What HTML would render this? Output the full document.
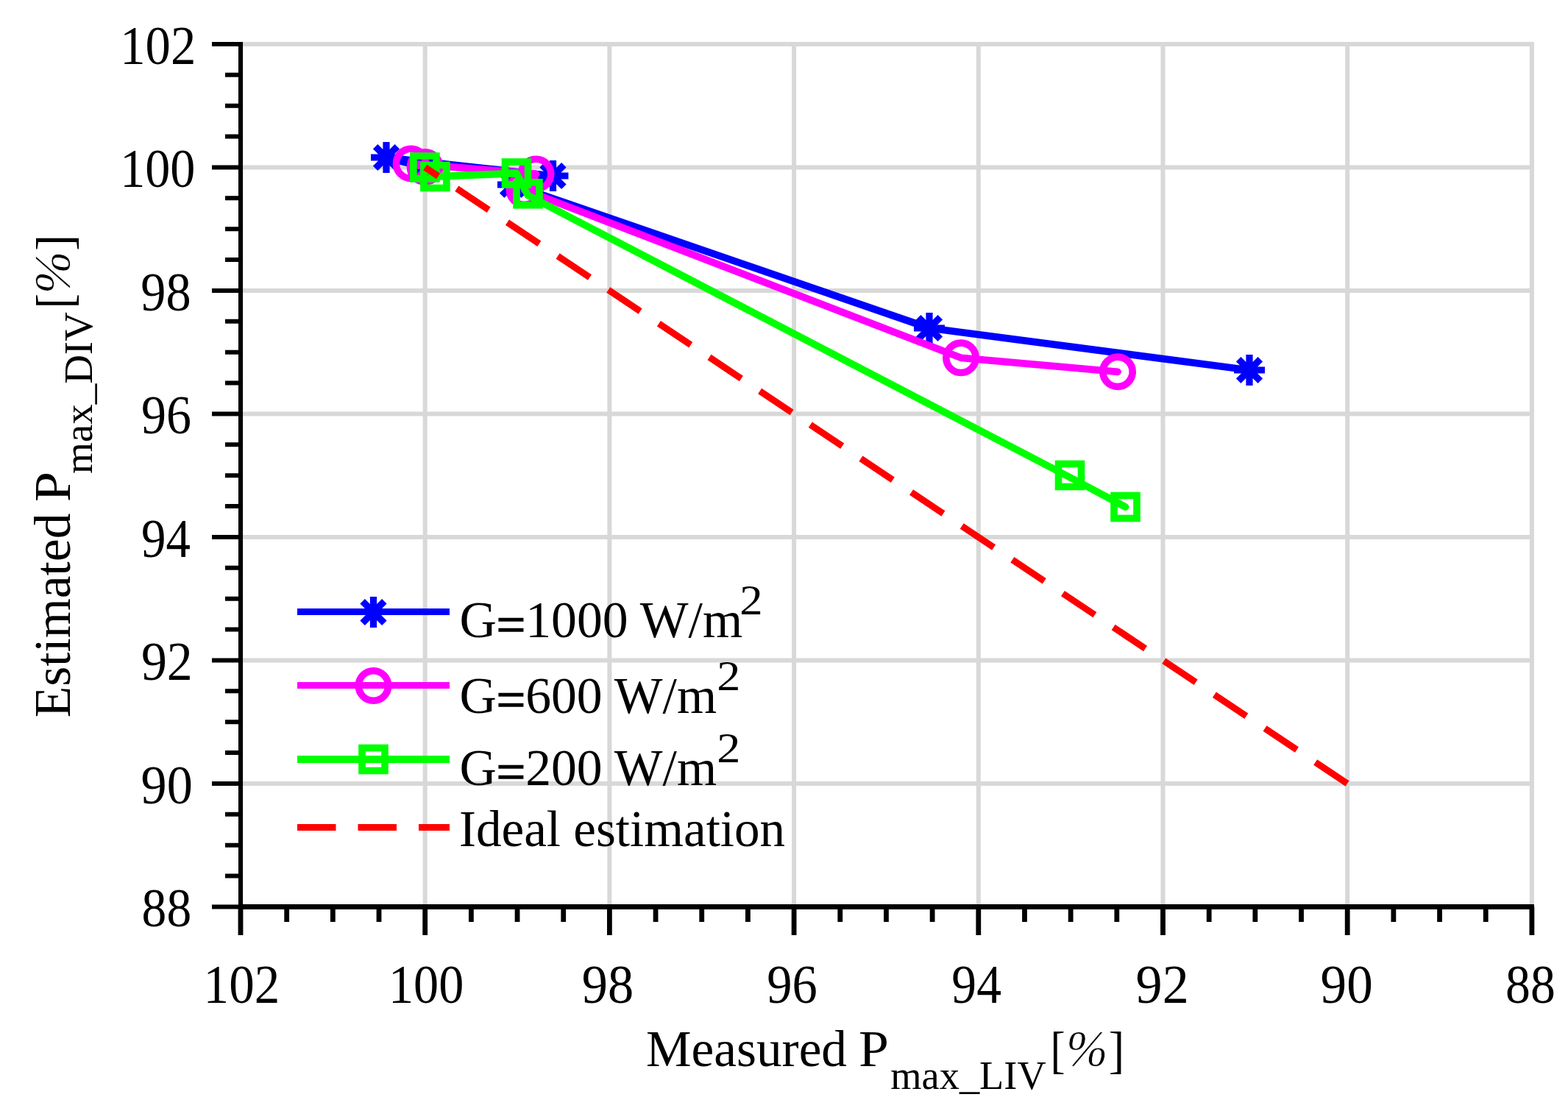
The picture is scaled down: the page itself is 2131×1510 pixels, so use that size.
<!DOCTYPE html><html><head><meta charset="utf-8"><title>Chart</title><style>html,body{margin:0;padding:0;background:#fff;overflow:hidden;}svg{display:block;}text{font-family:'Liberation Serif','Times New Roman',serif;fill:#000;}</style></head><body>
<svg width="2131" height="1510" viewBox="0 0 2131 1510">
<rect width="2131" height="1510" fill="#fff"/>
<path d="M577.70 57.00V1229.20 M828.40 57.00V1229.20 M1079.10 57.00V1229.20 M1329.80 57.00V1229.20 M1580.50 57.00V1229.20 M1831.20 57.00V1229.20 M2081.90 57.00V1229.20 M330.00 60.00H2084.90 M330.00 227.49H2084.90 M330.00 394.97H2084.90 M330.00 562.46H2084.90 M330.00 729.94H2084.90 M330.00 897.43H2084.90 M330.00 1064.91H2084.90" stroke="#d8d8d8" stroke-width="6" fill="none"/>
<path d="M288.00 60.00H327.00 M306.00 101.87H327.00 M306.00 143.74H327.00 M306.00 185.61H327.00 M288.00 227.49H327.00 M306.00 269.36H327.00 M306.00 311.23H327.00 M306.00 353.10H327.00 M288.00 394.97H327.00 M306.00 436.84H327.00 M306.00 478.71H327.00 M306.00 520.59H327.00 M288.00 562.46H327.00 M306.00 604.33H327.00 M306.00 646.20H327.00 M306.00 688.07H327.00 M288.00 729.94H327.00 M306.00 771.81H327.00 M306.00 813.69H327.00 M306.00 855.56H327.00 M288.00 897.43H327.00 M306.00 939.30H327.00 M306.00 981.17H327.00 M306.00 1023.04H327.00 M288.00 1064.91H327.00 M306.00 1106.79H327.00 M306.00 1148.66H327.00 M306.00 1190.53H327.00 M288.00 1232.40H327.00" stroke="#000" stroke-width="6" fill="none"/>
<path d="M327.00 1232.40V1271.00 M389.68 1232.40V1253.00 M452.35 1232.40V1253.00 M515.02 1232.40V1253.00 M577.70 1232.40V1271.00 M640.38 1232.40V1253.00 M703.05 1232.40V1253.00 M765.73 1232.40V1253.00 M828.40 1232.40V1271.00 M891.08 1232.40V1253.00 M953.75 1232.40V1253.00 M1016.43 1232.40V1253.00 M1079.10 1232.40V1271.00 M1141.78 1232.40V1253.00 M1204.45 1232.40V1253.00 M1267.12 1232.40V1253.00 M1329.80 1232.40V1271.00 M1392.48 1232.40V1253.00 M1455.15 1232.40V1253.00 M1517.83 1232.40V1253.00 M1580.50 1232.40V1271.00 M1643.18 1232.40V1253.00 M1705.85 1232.40V1253.00 M1768.53 1232.40V1253.00 M1831.20 1232.40V1271.00 M1893.88 1232.40V1253.00 M1956.55 1232.40V1253.00 M2019.23 1232.40V1253.00 M2081.90 1232.40V1271.00" stroke="#000" stroke-width="6.8" fill="none"/>
<path d="M327.00 57.00V1235.90" stroke="#000" stroke-width="6.1" fill="none"/>
<path d="M324.00 1232.50H2084.90" stroke="#000" stroke-width="7" fill="none"/>
<text x="163.26" y="86.60" font-size="73" textLength="102.97" lengthAdjust="spacingAndGlyphs">102</text>
<text x="163.20" y="254.09" font-size="73" textLength="102.24" lengthAdjust="spacingAndGlyphs">100</text>
<text x="191.33" y="421.57" font-size="73" textLength="68.28" lengthAdjust="spacingAndGlyphs">98</text>
<text x="191.94" y="589.06" font-size="73" textLength="68.03" lengthAdjust="spacingAndGlyphs">96</text>
<text x="191.97" y="756.54" font-size="73" textLength="66.95" lengthAdjust="spacingAndGlyphs">94</text>
<text x="191.88" y="924.03" font-size="73" textLength="69.95" lengthAdjust="spacingAndGlyphs">92</text>
<text x="191.57" y="1091.51" font-size="73" textLength="70.32" lengthAdjust="spacingAndGlyphs">90</text>
<text x="192.62" y="1259.00" font-size="73" textLength="67.55" lengthAdjust="spacingAndGlyphs">88</text>
<text x="276.62" y="1362.50" font-size="73" textLength="103.64" lengthAdjust="spacingAndGlyphs">102</text>
<text x="527.99" y="1362.50" font-size="73" textLength="102.34" lengthAdjust="spacingAndGlyphs">100</text>
<text x="790.77" y="1362.50" font-size="73" textLength="70.42" lengthAdjust="spacingAndGlyphs">98</text>
<text x="1042.22" y="1362.50" font-size="73" textLength="68.56" lengthAdjust="spacingAndGlyphs">96</text>
<text x="1293.35" y="1362.50" font-size="73" textLength="67.58" lengthAdjust="spacingAndGlyphs">94</text>
<text x="1543.52" y="1362.50" font-size="73" textLength="72.24" lengthAdjust="spacingAndGlyphs">92</text>
<text x="1794.55" y="1362.50" font-size="73" textLength="71.17" lengthAdjust="spacingAndGlyphs">90</text>
<text x="2046.12" y="1362.50" font-size="73" textLength="67.66" lengthAdjust="spacingAndGlyphs">88</text>
<text x="878.02" y="1448.80" font-size="70" textLength="272.98" lengthAdjust="spacingAndGlyphs">Measured</text>
<text x="1167.10" y="1448.80" font-size="70" textLength="40.88" lengthAdjust="spacingAndGlyphs">P</text>
<text x="1210.31" y="1480.00" font-size="55" textLength="211.41" lengthAdjust="spacingAndGlyphs">max_LIV</text>
<text x="1427.49" y="1451.30" font-size="70" textLength="20.11" lengthAdjust="spacingAndGlyphs">[</text>
<text x="1449.02" y="1448.80" font-size="70" font-style="italic" stroke="#fff" stroke-width="0.8" textLength="56.56" lengthAdjust="spacingAndGlyphs">%</text>
<text x="1506.84" y="1451.30" font-size="70" textLength="21.45" lengthAdjust="spacingAndGlyphs">]</text>
<text x="624.51" y="866.00" font-size="70" textLength="384.73" lengthAdjust="spacingAndGlyphs">G<tspan dy="6.7" stroke="#000" stroke-width="1.6">=</tspan><tspan dy="-6.7">1000 W/m</tspan></text>
<text x="1005.20" y="835.40" font-size="57" textLength="31.35" lengthAdjust="spacingAndGlyphs">2</text>
<text x="624.51" y="968.60" font-size="70" textLength="349.63" lengthAdjust="spacingAndGlyphs">G<tspan dy="6.7" stroke="#000" stroke-width="1.6">=</tspan><tspan dy="-6.7">600 W/m</tspan></text>
<text x="974.22" y="938.40" font-size="57" textLength="32.13" lengthAdjust="spacingAndGlyphs">2</text>
<text x="624.51" y="1066.60" font-size="70" textLength="349.63" lengthAdjust="spacingAndGlyphs">G<tspan dy="6.7" stroke="#000" stroke-width="1.6">=</tspan><tspan dy="-6.7">200 W/m</tspan></text>
<text x="974.22" y="1035.50" font-size="57" textLength="32.13" lengthAdjust="spacingAndGlyphs">2</text>
<text x="623.94" y="1150.00" font-size="70" textLength="443.18" lengthAdjust="spacingAndGlyphs">Ideal estimation</text>
<g transform="translate(95.4 0) rotate(-90)">
<text x="-975.28" y="0.00" font-size="70" textLength="277.61" lengthAdjust="spacingAndGlyphs">Estimated</text>
<text x="-681.91" y="0.00" font-size="70" textLength="41.00" lengthAdjust="spacingAndGlyphs">P</text>
<text x="-644.00" y="29.30" font-size="55" textLength="219.85" lengthAdjust="spacingAndGlyphs">max_DIV</text>
<text x="-419.14" y="2.50" font-size="70" textLength="20.25" lengthAdjust="spacingAndGlyphs">[</text>
<text x="-399.28" y="0.00" font-size="70" font-style="italic" stroke="#fff" stroke-width="0.8" textLength="57.96" lengthAdjust="spacingAndGlyphs">%</text>
<text x="-340.94" y="2.50" font-size="70" textLength="22.07" lengthAdjust="spacingAndGlyphs">]</text>
</g>
<polyline points="577.70,227.50 525.00,214.00 751.50,239.00 697.00,251.00 1263.00,446.00 1698.00,503.00" fill="none" stroke="#0000ff" stroke-width="9.8" stroke-linejoin="round" stroke-linecap="round"/>
<path d="M577.70 206.50V248.50M562.85 212.65L592.55 242.35M562.85 242.35L592.55 212.65M556.70 227.50H598.70" stroke="#0000ff" stroke-width="9.2" fill="none"/>
<path d="M525.00 193.00V235.00M510.15 199.15L539.85 228.85M510.15 228.85L539.85 199.15M504.00 214.00H546.00" stroke="#0000ff" stroke-width="9.2" fill="none"/>
<path d="M751.50 218.00V260.00M736.65 224.15L766.35 253.85M736.65 253.85L766.35 224.15M730.50 239.00H772.50" stroke="#0000ff" stroke-width="9.2" fill="none"/>
<path d="M697.00 230.00V272.00M682.15 236.15L711.85 265.85M682.15 265.85L711.85 236.15M676.00 251.00H718.00" stroke="#0000ff" stroke-width="9.2" fill="none"/>
<path d="M1263.00 425.00V467.00M1248.15 431.15L1277.85 460.85M1248.15 460.85L1277.85 431.15M1242.00 446.00H1284.00" stroke="#0000ff" stroke-width="9.2" fill="none"/>
<path d="M1698.00 482.00V524.00M1683.15 488.15L1712.85 517.85M1683.15 517.85L1712.85 488.15M1677.00 503.00H1719.00" stroke="#0000ff" stroke-width="9.2" fill="none"/>
<polyline points="577.60,227.00 558.60,222.40 728.50,236.50 712.50,258.00 1306.00,486.30 1519.00,505.30" fill="none" stroke="#ff00ff" stroke-width="9.8" stroke-linejoin="round" stroke-linecap="round"/>
<circle cx="577.60" cy="227.00" r="20.2" fill="none" stroke="#ff00ff" stroke-width="9.6"/>
<circle cx="558.60" cy="222.40" r="20.2" fill="none" stroke="#ff00ff" stroke-width="9.6"/>
<circle cx="728.50" cy="236.50" r="20.2" fill="none" stroke="#ff00ff" stroke-width="9.6"/>
<circle cx="712.50" cy="258.00" r="20.2" fill="none" stroke="#ff00ff" stroke-width="9.6"/>
<circle cx="1306.00" cy="486.30" r="20.2" fill="none" stroke="#ff00ff" stroke-width="9.6"/>
<circle cx="1519.00" cy="505.30" r="20.2" fill="none" stroke="#ff00ff" stroke-width="9.6"/>
<polyline points="577.40,227.50 591.40,240.00 702.00,235.50 717.50,265.50 1454.50,649.00 1529.50,689.00" fill="none" stroke="#00ff00" stroke-width="9.8" stroke-linejoin="round" stroke-linecap="round"/>
<rect x="561.90" y="212.00" width="31.00" height="31.00" fill="none" stroke="#00ff00" stroke-width="9.6"/>
<rect x="575.90" y="224.50" width="31.00" height="31.00" fill="none" stroke="#00ff00" stroke-width="9.6"/>
<rect x="686.50" y="220.00" width="31.00" height="31.00" fill="none" stroke="#00ff00" stroke-width="9.6"/>
<rect x="702.00" y="247.80" width="31.00" height="31.00" fill="none" stroke="#00ff00" stroke-width="9.6"/>
<rect x="1438.50" y="630.50" width="31.00" height="31.00" fill="none" stroke="#00ff00" stroke-width="9.6"/>
<rect x="1514.00" y="673.50" width="31.00" height="31.00" fill="none" stroke="#00ff00" stroke-width="9.6"/>
<line x1="577.7" y1="227.5" x2="1831.2" y2="1065.0" stroke="#ff0000" stroke-width="9" stroke-dasharray="52.2 30.35" stroke-dashoffset="30.7"/>
<line x1="404" y1="831.5" x2="611" y2="831.5" stroke="#0000ff" stroke-width="9"/>
<path d="M507.50 811.00V853.00M492.65 817.15L522.35 846.85M492.65 846.85L522.35 817.15" stroke="#0000ff" stroke-width="9.2" fill="none"/>
<line x1="404" y1="931.5" x2="611" y2="931.5" stroke="#ff00ff" stroke-width="9"/>
<circle cx="507.50" cy="932.00" r="20.2" fill="none" stroke="#ff00ff" stroke-width="9.6"/>
<line x1="404" y1="1032" x2="611" y2="1032" stroke="#00ff00" stroke-width="9.8"/>
<rect x="492.00" y="1016.50" width="31.00" height="31.00" fill="none" stroke="#00ff00" stroke-width="9.6"/>
<line x1="404" y1="1124.5" x2="611" y2="1124.5" stroke="#ff0000" stroke-width="9" stroke-dasharray="52.5 30"/>
</svg></body></html>
